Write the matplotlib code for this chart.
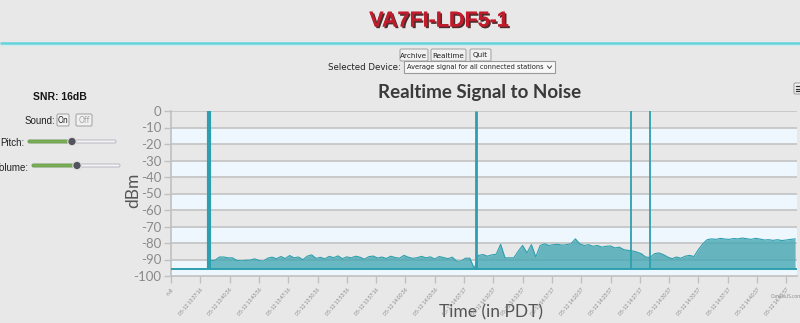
import numpy as np
import matplotlib.pyplot as plt
from matplotlib.patches import FancyBboxPatch, Circle, Rectangle
import matplotlib.patheffects as pe

# seconds after 13:33:56 for each tick on the time axis
xtick_secs = np.arange(0, 4201, 200)
xtick_labels = ['null', '05-12 13:37:16', '05-12 13:40:36', '05-12 13:43:56',
                '05-12 13:47:16', '05-12 13:50:36', '05-12 13:53:56', '05-12 13:57:16',
                '05-12 14:00:36', '05-12 14:03:56', '05-12 14:07:17', '05-12 14:10:37',
                '05-12 14:13:57', '05-12 14:17:17', '05-12 14:20:37', '05-12 14:23:57',
                '05-12 14:27:17', '05-12 14:30:37', '05-12 14:33:57', '05-12 14:37:17',
                '05-12 14:40:37', '05-12 14:43:57']

# averaged signal, one reading every 30 s starting at t=270 s
snr_start = 270
snr_step = 30
snr_dbm = [
    -90.5, -90.5, -88.5, -88.5, -89.0, -89.0, -90.6, -90.8, -90.5, -90.4,
    -89.6, -90.6, -91.0, -89.2, -88.6, -89.5,
    -88.2, -89.4, -87.6, -89.0, -88.5, -90.1, -88.0, -87.2, -89.3, -88.7,
    -89.6, -88.1, -88.9, -87.8, -89.5, -88.4, -89.0, -88.0, -88.6, -89.8,
    -88.3, -87.9, -89.1, -88.5, -89.4, -88.0, -88.8, -89.2, -87.5, -88.6,
    -89.3, -88.9, -88.1, -89.0, -88.4, -89.7, -88.2, -88.8, -89.5, -88.6,
    -91.0, -91.0, -89.2, -89.2, -95.5,
    -87.5, -87.0, -88.0, -87.2, -86.8, -80.8, -89.0, -89.0, -89.0, -85.0,
    -81.5, -86.0, -81.0, -88.5, -81.5, -80.5, -81.5, -81.0, -80.8, -81.3,
    -81.0, -80.5, -77.5, -80.5, -81.5, -81.0, -82.0, -81.5, -82.5, -82.0,
    -81.8, -83.0, -82.5, -84.0, -84.5, -84.8, -85.5, -86.5, -88.5, -88.8,
    -86.5, -86.0, -87.0, -88.5, -89.5, -88.5, -89.2, -88.0, -87.5, -88.2,
    -84.0, -80.5, -78.0, -77.5, -77.8, -77.2, -77.6, -77.8, -77.3, -77.5,
    -77.0, -77.4, -77.8, -77.2, -77.6, -78.2, -78.0, -78.4, -78.0, -78.5,
    -78.2, -77.8, -77.5,
]
# short bursts that read 0 dBm
spike_secs = [259, 2082, 3140, 3270]
spike_dbm = [0, 0, 0, 0]
spike_widths = [3.0, 2.0, 1.3, 1.3]
noise_floor = -95.5

BG = '#e8e8e8'
TEAL = '#2e9fae'
NARROW = ['Liberation Sans Narrow', 'DejaVu Sans']

fig = plt.figure(figsize=(8, 3.23), dpi=100, facecolor=BG)

# page layer in pixel coordinates
page = fig.add_axes([0, 0, 1, 1], zorder=0)
page.set_xlim(0, 800)
page.set_ylim(323, 0)
page.axis('off')
page.set_facecolor(BG)


def button(x0, y0, x1, y1, label, color='#222222', size=5.2):
    page.add_patch(FancyBboxPatch((x0, y0), x1 - x0, y1 - y0,
                                  boxstyle='round,pad=0,rounding_size=1.5',
                                  fc='#f1f1f1', ec='#a8a8a8', lw=0.8))
    page.text((x0 + x1) / 2, (y0 + y1) / 2 + 0.5, label, ha='center', va='center',
              fontsize=size, color=color, family=NARROW)


def slider(x0, x1, knob, y):
    page.add_patch(FancyBboxPatch((x0, y - 1.5), x1 - x0, 3,
                                  boxstyle='round,pad=0,rounding_size=1.5',
                                  fc='#f4f4f8', ec='#b8b8c0', lw=0.7))
    page.add_patch(FancyBboxPatch((x0, y - 1.5), knob - x0, 3,
                                  boxstyle='round,pad=0,rounding_size=1.5',
                                  fc='#7aae55', ec='#6a9e48', lw=0.5))
    page.add_patch(Circle((knob, y), 4.2, fc='#54545e', ec='#e0e0e0', lw=0.8))


# header
page.text(439, 21, 'VA7FI-LDF5-1', ha='center', va='center', fontsize=15.5,
          fontweight='bold', color='#c01c2c',
          family=['Liberation Sans Narrow', 'Liberation Sans'],
          path_effects=[pe.withSimplePatchShadow(offset=(1.2, -1.2),
                                                 shadow_rgbFace='#3a1616', alpha=0.9),
                        pe.Normal()])
page.plot([0, 800], [43, 43], color='#62d3dc', lw=1.8, solid_capstyle='butt')
page.plot([0, 800], [44.5, 44.5], color='#c8eef0', lw=0.8, solid_capstyle='butt')

button(400, 49, 428, 61, 'Archive')
button(431, 49, 466, 61, 'Realtime')
button(470, 49, 491, 61, 'Quit')
page.text(401, 67.5, 'Selected Device:', ha='right', va='center', fontsize=6.2,
          color='#222222', family=NARROW)
page.add_patch(Rectangle((404, 61), 151, 12, fc='#f7f7f7', ec='#9a9a9a', lw=0.8))
page.text(407, 67.5, 'Average signal for all connected stations', ha='left', va='center',
          fontsize=4.8, color='#222222', family=NARROW)
page.plot([547.5, 549.5, 551.5], [66, 68.5, 66], color='#444444', lw=0.7)

# left control panel
page.text(60, 97, 'SNR: 16dB', ha='center', va='center', fontsize=7.5,
          fontweight='bold', color='#151515', family='Liberation Sans')
page.text(55, 120.5, 'Sound:', ha='right', va='center', fontsize=7,
          color='#222222', family='Liberation Sans')
button(57, 114, 69, 126, 'On', size=5.5)
button(76, 114, 92, 126, 'Off', color='#a0a0a0', size=5.5)
page.text(24, 143.5, 'Pitch:', ha='right', va='center', fontsize=7,
          color='#222222', family='Liberation Sans')
slider(28, 116, 72, 141.5)
page.text(29, 168, 'Volume:', ha='right', va='center', fontsize=7,
          color='#222222', family='Liberation Sans')
slider(32, 120, 77, 165.5)

# chart texts
page.text(480, 92.5, 'Realtime Signal to Noise', ha='center', va='center', fontsize=13.5,
          fontweight='bold', color='#3a3a3a', family='Lato')
page.text(133, 190, 'dBm', ha='center', va='center', rotation=90, fontsize=12.5,
          color='#555555', family='Lato')
page.text(491, 312, 'Time (in PDT)', ha='center', va='center', fontsize=12.5,
          color='#555555', family='Lato')
page.text(771, 296, 'CanvasJS.com', ha='left', va='center', fontsize=3.6,
          color='#8c8c8c', family='Lato')
page.add_patch(FancyBboxPatch((794, 83), 10, 11, boxstyle='round,pad=0,rounding_size=1.5',
                              fc='#f4f4f4', ec='#9a9a9a', lw=0.7))
for yy in (86, 88.5, 91):
    page.plot([796, 800], [yy, yy], color='#333333', lw=0.9)

# chart
ax = fig.add_axes([171 / 800, 1 - 276 / 323, 626 / 800, 165 / 323], zorder=1)
ax.patch.set_alpha(0)
ax.set_xlim(0, 4273)
ax.set_ylim(-100, 0)

for lo in range(-100, 0, 20):
    ax.axhspan(lo, lo + 10, color='#eef6fe', lw=0, zorder=0)
for yv in range(-90, 1, 10):
    ax.axhline(yv, color='#c6c6c6', lw=1.3, zorder=1)

t = snr_start + snr_step * np.arange(len(snr_dbm))
vals = np.array(snr_dbm)
ax.fill_between(t, noise_floor, vals, color='#42a7b3', alpha=0.78, lw=0, zorder=2)
ax.plot(t, vals, color=TEAL, lw=0.8, zorder=3)
for s, v, w in zip(spike_secs, spike_dbm, spike_widths):
    ax.vlines(s, noise_floor, v, color=TEAL, lw=w, zorder=3)
ax.axhline(noise_floor, color=TEAL, lw=1.4, zorder=3)

ax.set_yticks(range(-100, 1, 10))
ax.set_yticklabels([str(v) for v in range(-100, 1, 10)])
ax.set_xticks(xtick_secs)
ax.set_xticklabels(xtick_labels, rotation=50, ha='right', va='top',
                   rotation_mode='anchor', fontsize=3.6, color='#8a8a8a', family='Lato')
ax.tick_params(axis='y', labelsize=9.5, labelcolor='#8a8a8a', color='#c0c0c0',
               length=5, width=1, pad=2)
ax.tick_params(axis='x', color='#c0c0c0', length=5, width=1, pad=3)
for lab in ax.get_yticklabels():
    lab.set_family('Lato')

for side in ('top', 'right'):
    ax.spines[side].set_visible(False)
ax.spines['left'].set_color('#c0c0c0')
ax.spines['bottom'].set_color('#c0c0c0')
ax.spines['left'].set_linewidth(1.2)
ax.spines['bottom'].set_linewidth(1.2)

fig.savefig('out.png', dpi=100, facecolor=BG)
